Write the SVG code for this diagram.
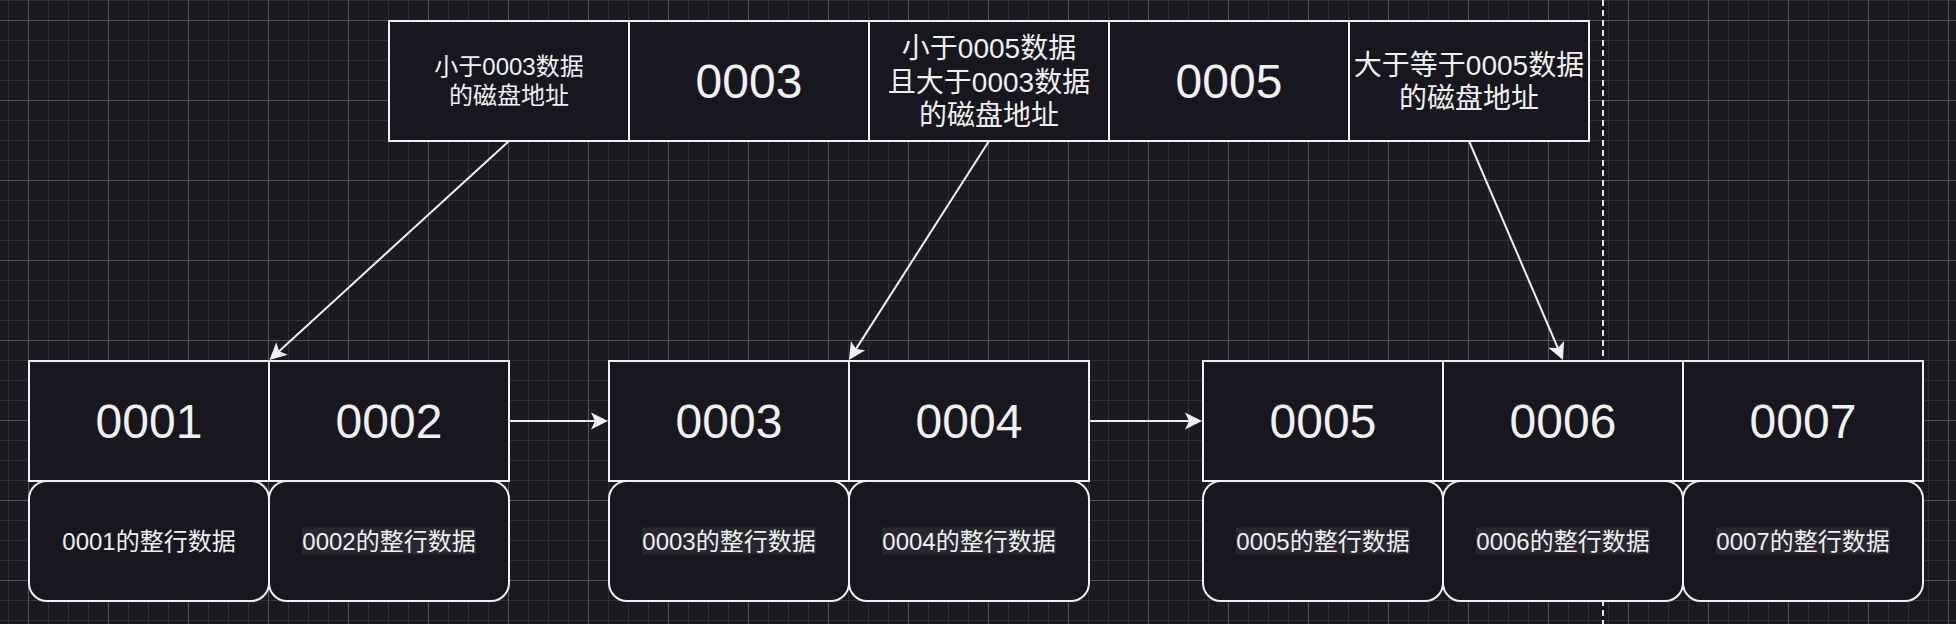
<svg xmlns="http://www.w3.org/2000/svg" width="1956" height="624" viewBox="0 0 1956 624">
  <defs>
    <pattern id="grid" patternUnits="userSpaceOnUse" x="8" y="0" width="80" height="80">
      <g stroke="#302f36" stroke-width="1">
        <line x1="0.5" y1="0" x2="0.5" y2="80"/>
        <line x1="40.5" y1="0" x2="40.5" y2="80"/>
        <line x1="60.5" y1="0" x2="60.5" y2="80"/>
        <line x1="0" y1="0.5" x2="80" y2="0.5"/>
        <line x1="0" y1="40.5" x2="80" y2="40.5"/>
        <line x1="0" y1="60.5" x2="80" y2="60.5"/>
      </g>
      <g stroke="#55545a" stroke-width="1">
        <line x1="20.5" y1="0" x2="20.5" y2="80"/>
        <line x1="0" y1="20.5" x2="80" y2="20.5"/>
      </g>
    </pattern>
    <marker id="arrow" markerUnits="userSpaceOnUse" markerWidth="19" markerHeight="19" viewBox="0 0 19 19" refX="12" refY="9" orient="auto">
      <path d="M1,0.5 L18,9 L1,17.5 L5,9 Z" fill="#f0f0f0"/>
    </marker>
    <style>
      .cell { fill: #18171f; stroke: #f0f0f0; stroke-width: 2; }
      .big { font-family: "Liberation Sans", "Noto Sans CJK SC", sans-serif; font-size: 48px; fill: #f0f0f0; text-anchor: middle; }
      .t24 { font-family: "Liberation Sans", "Noto Sans CJK SC", sans-serif; font-size: 24px; fill: #f0f0f0; text-anchor: middle; }
      .t28 { font-family: "Liberation Sans", "Noto Sans CJK SC", sans-serif; font-size: 28px; fill: #f0f0f0; text-anchor: middle; }
      .hl { fill: #28262e; }
      .edge { stroke: #f0f0f0; stroke-width: 2; fill: none; marker-end: url(#arrow); }
    </style>
  </defs>

  <rect x="0" y="0" width="1956" height="624" fill="#1b1a21"/>
  <rect x="0" y="0" width="1956" height="624" fill="url(#grid)"/>

  <line x1="1603" y1="0" x2="1603" y2="624" stroke="#e6e6e6" stroke-width="2" stroke-dasharray="6 4"/>

  <g id="index-node">
    <rect class="cell" x="389" y="21" width="240" height="120"/>
    <text class="t24" x="509" y="75">小于0003数据</text>
    <text class="t24" x="509" y="104">的磁盘地址</text>
    <rect class="cell" x="629" y="21" width="240" height="120"/>
    <text class="big" x="749" y="98">0003</text>
    <rect class="cell" x="869" y="21" width="240" height="120"/>
    <text class="t28" x="989" y="58">小于0005数据</text>
    <text class="t28" x="989" y="91.5">且大于0003数据</text>
    <text class="t28" x="989" y="125">的磁盘地址</text>
    <rect class="cell" x="1109" y="21" width="240" height="120"/>
    <text class="big" x="1229" y="98">0005</text>
    <rect class="cell" x="1349" y="21" width="240" height="120"/>
    <text class="t28" x="1469" y="74.5">大于等于0005数据</text>
    <text class="t28" x="1469" y="108">的磁盘地址</text>
  </g>

  <g id="leaf-1">
    <rect class="cell" x="29" y="361" width="240" height="120"/>
    <text class="big" x="149" y="438">0001</text>
    <rect class="cell" x="269" y="361" width="240" height="120"/>
    <text class="big" x="389" y="438">0002</text>
    <rect class="cell" x="29" y="481" width="240" height="120" rx="18"/>
    <text class="t24" x="149" y="550">0001的整行数据</text>
    <rect class="cell" x="269" y="481" width="240" height="120" rx="18"/>
    <rect class="hl" x="302" y="527.5" width="174" height="27"/>
    <text class="t24" x="389" y="550">0002的整行数据</text>
  </g>

  <g id="leaf-2">
    <rect class="cell" x="609" y="361" width="240" height="120"/>
    <text class="big" x="729" y="438">0003</text>
    <rect class="cell" x="849" y="361" width="240" height="120"/>
    <text class="big" x="969" y="438">0004</text>
    <rect class="cell" x="609" y="481" width="240" height="120" rx="18"/>
    <rect class="hl" x="642" y="527.5" width="174" height="27"/>
    <text class="t24" x="729" y="550">0003的整行数据</text>
    <rect class="cell" x="849" y="481" width="240" height="120" rx="18"/>
    <rect class="hl" x="882" y="527.5" width="174" height="27"/>
    <text class="t24" x="969" y="550">0004的整行数据</text>
  </g>

  <g id="leaf-3">
    <rect class="cell" x="1203" y="361" width="240" height="120"/>
    <text class="big" x="1323" y="438">0005</text>
    <rect class="cell" x="1443" y="361" width="240" height="120"/>
    <text class="big" x="1563" y="438">0006</text>
    <rect class="cell" x="1683" y="361" width="240" height="120"/>
    <text class="big" x="1803" y="438">0007</text>
    <rect class="cell" x="1203" y="481" width="240" height="120" rx="18"/>
    <rect class="hl" x="1236" y="527.5" width="174" height="27"/>
    <text class="t24" x="1323" y="550">0005的整行数据</text>
    <rect class="cell" x="1443" y="481" width="240" height="120" rx="18"/>
    <rect class="hl" x="1476" y="527.5" width="174" height="27"/>
    <text class="t24" x="1563" y="550">0006的整行数据</text>
    <rect class="cell" x="1683" y="481" width="240" height="120" rx="18"/>
    <rect class="hl" x="1716" y="527.5" width="174" height="27"/>
    <text class="t24" x="1803" y="550">0007的整行数据</text>
  </g>

  <g id="connectors">
    <line class="edge" x1="509" y1="141" x2="273.9" y2="355.9"/>
    <line class="edge" x1="989" y1="141" x2="852.2" y2="354.9"/>
    <line class="edge" x1="1469" y1="141" x2="1560.6" y2="354.5"/>
    <line class="edge" x1="509" y1="421" x2="602" y2="421"/>
    <line class="edge" x1="1089" y1="421" x2="1196" y2="421"/>
  </g>
</svg>
